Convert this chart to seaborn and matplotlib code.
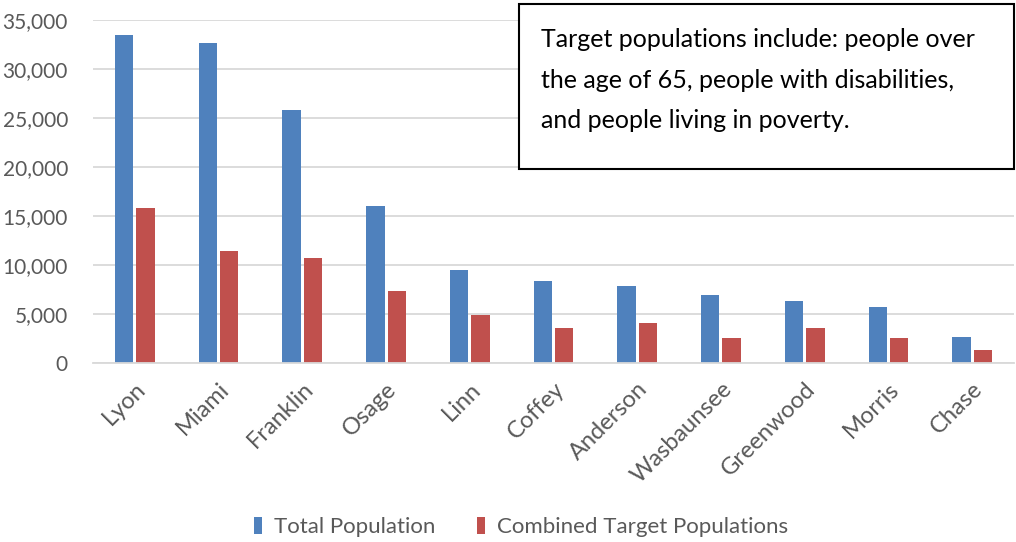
import matplotlib
matplotlib.use("Agg")
import matplotlib.pyplot as plt
import seaborn as sns
import pandas as pd
from matplotlib.ticker import FuncFormatter, MultipleLocator

counties = ["Lyon", "Miami", "Franklin", "Osage", "Linn", "Coffey",
            "Anderson", "Wasbaunsee", "Greenwood", "Morris", "Chase"]
total_population = [33500, 32700, 25800, 16050, 9460, 8370,
                    7860, 6940, 6330, 5710, 2650]
target_populations = [15800, 11400, 10750, 7400, 4900, 3540,
                      4050, 2550, 3540, 2580, 1360]
series_names = ["Total Population", "Combined Target Populations"]
note_text = ("Target populations include: people over\n"
             "the age of 65, people with disabilities,\n"
             "and people living in poverty.")

df = pd.DataFrame({
    "County": counties * 2,
    "Population": total_population + target_populations,
    "Series": [series_names[0]] * len(counties) + [series_names[1]] * len(counties),
})

sns.set_theme(style="white")
plt.rcParams["font.family"] = ["Lato", "DejaVu Sans"]

fig = plt.figure(figsize=(10.16, 5.42), dpi=100)
ax = fig.add_axes([0.0915, 0.330, 0.9065, 0.633])

sns.barplot(data=df, x="County", y="Population", hue="Series",
            hue_order=series_names, order=counties,
            palette=["#4F81BD", "#C0504D"], saturation=1,
            width=0.51, gap=0.14, linewidth=0, errorbar=None,
            ax=ax, legend=True)

ax.set_ylim(0, 35000)
ax.yaxis.set_major_locator(MultipleLocator(5000))
ax.yaxis.set_major_formatter(FuncFormatter(lambda v, p: f"{int(v):,}"))
ax.grid(axis="y", color="#D9D9D9", linewidth=1.3)
ax.set_axisbelow(True)
for s in ["top", "right", "left"]:
    ax.spines[s].set_visible(False)
ax.spines["bottom"].set_color("#D9D9D9")
ax.spines["bottom"].set_linewidth(1.3)
ax.set_xlabel("")
ax.set_ylabel("")
ax.tick_params(axis="y", labelsize=15, labelcolor="#595959", length=0, pad=18)
ax.tick_params(axis="x", labelsize=17, labelcolor="#595959", length=0, pad=11)
plt.setp(ax.get_xticklabels(), rotation=45, ha="right", rotation_mode="anchor")

handles, labels = ax.get_legend_handles_labels()
ax.get_legend().remove()
fig.legend(handles, labels, loc="center", bbox_to_anchor=(0.513, 0.028),
           ncol=2, frameon=False, fontsize=16, handlelength=0.35,
           handleheight=0.85, handletextpad=0.55, columnspacing=1.9,
           labelcolor="#595959")

rect = plt.Rectangle((519 / 1016, 1 - 169 / 542), (1014 - 519) / 1016,
                     (169 - 4) / 542, transform=fig.transFigure,
                     facecolor="white", edgecolor="black", linewidth=1.5,
                     zorder=5)
fig.add_artist(rect)
fig.text(541 / 1016, 0.948, note_text, fontsize=18, color="black",
         va="top", ha="left", linespacing=1.92, zorder=6)

fig.savefig("out.png", dpi=100)
